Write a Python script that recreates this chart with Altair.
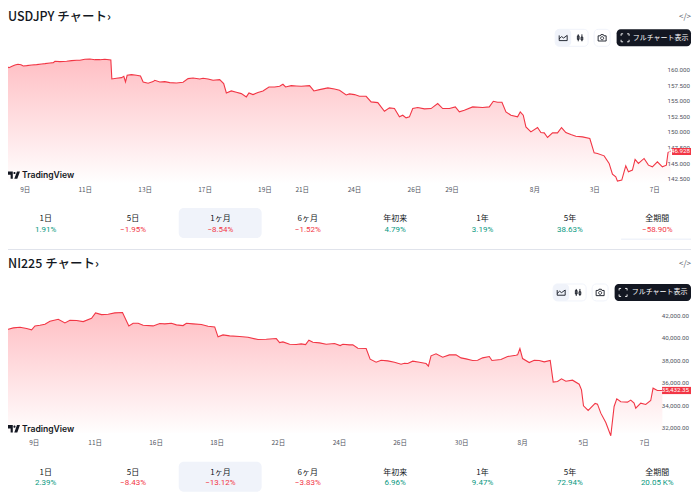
import altair as alt
import pandas as pd

FONT = "Noto Sans CJK JP"
RED = "#f23645"
GREEN = "#089981"
INK = "#131722"

usd_pos = [9,18,27,36,45,54,63,70,80,95,110,125,135,150,160,165,180,200,215,230,240,255,270,285,300,315,333,336,350,365,372,377,382,395,410,422,430,445,460,465,480,495,510,530,550,565,580,600,610,625,640,660,672,680,695,710,725,740,748,760,775,790,808,825,840,850,858,875,890,905,930,943,960,985,1005,1020,1040,
           1050,1065,1080,1100,1115,1135,1155,1170,1185,1200,1210,1220,1230,1240,1255,1275,1295,1315,1330,1350,1368,1380,1395,1420,1450,1470,1482,1495,1508,1520,1535,1555,1563,1572,1580,1595,1615,1625,1635,1645,1660,1675,1687,1700,1715,1730,1750,1772,1785,1795,1815,1830,1840,1850,1855,1868,1880,1888,1900,1908,1918,1935,1948,1960,1975,1990,2002,2007,2015]
usd_price = [160.75,160.64,160.37,160.59,160.80,160.91,160.85,160.64,160.69,160.80,160.85,160.96,161.01,161.12,161.17,161.39,161.33,161.39,161.49,161.55,161.55,161.71,161.76,161.65,161.65,161.71,161.60,158.56,158.67,158.77,158.99,158.08,159.15,159.25,159.15,159.04,158.08,157.87,158.13,158.35,158.08,158.13,157.97,157.92,158.03,158.61,158.72,158.56,158.67,158.56,158.35,158.45,157.81,156.32,156.64,156.42,156.21,155.68,156.32,156.05,156.37,156.64,157.28,157.28,157.39,157.71,157.28,157.49,157.44,157.39,157.49,156.64,156.85,157.12,156.96,156.74,156.00,
             156.16,156.05,155.78,155.78,154.88,154.77,153.38,153.92,153.81,152.48,152.74,152.32,152.48,153.81,153.97,153.76,153.81,154.61,153.81,153.81,154.08,153.28,153.54,154.08,153.97,154.08,154.98,154.82,154.82,153.28,152.74,152.48,153.28,152.74,150.87,150.07,150.77,149.97,149.91,149.17,149.91,149.91,150.77,149.97,149.65,149.38,149.27,149.01,146.71,146.61,146.23,145.01,143.30,142.87,142.18,142.34,144.63,143.67,143.94,145.65,145.01,145.81,144.74,144.47,145.27,144.47,144.74,146.77,147.03]

nk_pos = [12,25,40,60,80,95,105,120,135,150,175,195,210,230,250,275,287,305,325,345,368,387,400,415,430,460,480,495,515,530,550,560,580,605,625,645,655,670,690,720,745,775,800,830,840,850,870,890,905,918,928,940,960,980,1005,1022,1030,
          1050,1060,1075,1100,1112,1130,1145,1165,1185,1205,1215,1225,1240,1260,1280,1287,1295,1310,1330,1350,1370,1385,1400,1420,1435,1450,1470,1478,1505,1525,1550,1555,1562,1570,1590,1605,1620,1635,1653,1662,1675,1687,1700,1720,1740,1747,1753,1767,1788,1795,1805,1820,1835,1845,1853,1865,1885,1895,1905,1910,1925,1940,1955,1962,1975,1990]
nk_price = [40757,40816,40935,40994,40876,40757,41112,41171,41260,41527,41704,41379,41615,41586,41497,41793,42266,42118,42148,42266,42296,41112,41349,41349,41171,41112,41319,41290,41349,41201,41142,41349,41290,41231,41083,41024,40136,40313,40225,40165,40106,39899,39929,39988,39633,39692,39485,39455,39514,39455,39840,39662,39603,39485,39544,39366,39485,
            39426,39426,39130,39100,38153,37887,38065,38005,37887,37709,37798,37769,37976,37887,37769,37532,38449,38627,38331,38538,38538,38272,38183,38035,38065,38272,38390,38035,38124,38390,38508,38538,39100,38212,37857,38065,38035,37917,38035,36112,36171,36407,36200,36289,35934,35431,34011,33596,34218,34159,33360,32531,31348,33951,34632,34366,34336,34514,34247,33803,34247,34129,34484,35579,35372,35372]

usd_x_labels = ["9日","11日","13日","17日","19日","21日","24日","26日","29日","8月","3日","7日"]
usd_x_pos = [76,256,436,616,796,908,1065,1245,1358,1607,1787,1967]
nk_x_labels = ["9日","11日","16日","18日","22日","24日","26日","30日","8月","5日","7日"]
nk_x_pos = [103,286,469,652,836,1020,1202,1387,1570,1753,1937]

usd_ticks = [160.0,157.5,155.0,152.5,150.0,147.5,145.0,142.5]
usd_tick_labels = ["160.000","157.500","155.000","152.500","150.000","147.500","145.000","142.500"]
nk_ticks = [42000,40000,38000,36000,34000,32000]
nk_tick_labels = ["42,000.00","40,000.00","38,000.00","36,000.00","34,000.00","32,000.00"]

tabs = ["1日","5日","1ヶ月","6ヶ月","年初来","1年","5年","全期間"]
usd_pct = ["1.91%","−1.95%","−8.54%","−1.52%","4.79%","3.19%","38.63%","−58.90%"]
nk_pct = ["2.39%","−8.43%","−13.12%","−3.83%","6.96%","9.47%","72.94%","20.05 K%"]

TV = "M-1 -0.62H-0.2V0.62H-0.56V-0.05H-1Z M-0.1 -0.35a0.18 0.18 0 1 0 0.36 0a0.18 0.18 0 1 0 -0.36 0Z M0.5 -0.62H1L0.55 0.62H0.05Z"
AREA_ICON = "M-1 -0.6V0.7H1 M-1 0.25L-0.4 -0.3L0.1 0.05L1 -0.6V0.7"
CANDLE_ICON = "M-0.55 -1V1 M-0.8 -0.55H-0.3V0.45H-0.8Z M0.5 -1V1 M0.25 -0.2H0.75V0.6H0.25Z"
CAMERA = "M-1 -0.5H-0.45L-0.3 -0.8H0.3L0.45 -0.5H1V0.8H-1Z M-0.38 0.1a0.38 0.38 0 1 0 0.76 0a0.38 0.38 0 1 0 -0.76 0Z"
FRAME = "M-1 -0.5V-1H-0.5 M0.5 -1H1V-0.5 M1 0.5V1H0.5 M-0.5 1H-1V0.5"

W = 684


def text(s, x, y, size=8, color=INK, align="center", weight=400, font=FONT):
    return alt.Chart(pd.DataFrame({"t": [s]})).mark_text(
        font=font, fontSize=size, color=color, align=align, baseline="middle", fontWeight=weight
    ).encode(x=alt.value(x), y=alt.value(y), text="t:N")


def box(x0, x1, y0, y1, fill, radius=3, stroke=None):
    kw = {"stroke": stroke, "strokeWidth": 1} if stroke else {}
    return alt.Chart(pd.DataFrame({"a": [0]})).mark_rect(
        fill=fill, cornerRadius=radius, **kw
    ).encode(x=alt.value(x0), x2=alt.value(x1), y=alt.value(y0), y2=alt.value(y1))


def icon(path, x, y, size, filled=False, color=INK, sw=0.9):
    if filled:
        m = alt.Chart(pd.DataFrame({"a": [0]})).mark_point(shape=path, size=size, filled=True, fill=color, opacity=1, strokeWidth=0)
    else:
        m = alt.Chart(pd.DataFrame({"a": [0]})).mark_point(shape=path, size=size, filled=False, stroke=color, opacity=1, strokeWidth=sw)
    return m.encode(x=alt.value(x), y=alt.value(y))


def panel(title, pos, price, x_labels, x_pos, ticks, tick_labels, pct, last, last_label, tag_half,
          y_dom, y_rng, base, wm_y, title_y, o, h, xo, tag_w, btn_x, full_text, tab_y, sep):
    xs = alt.Scale(domain=[24, 2076], range=[0, W])
    ys = alt.Scale(domain=y_dom, range=y_rng)
    df = pd.DataFrame({"pos": pos, "price": price})
    grad = alt.LinearGradient(gradient="linear", x1=1, x2=1, y1=0, y2=1,
                              stops=[alt.GradientStop(color="#ffbfc4", offset=0),
                                     alt.GradientStop(color="#ffffff", offset=1)])
    area = alt.Chart(df).mark_area(color=grad, clip=True).encode(
        x=alt.X("pos:Q", scale=xs, axis=None),
        y=alt.Y("price:Q", scale=ys, axis=None, stack=None),
        y2=alt.value(base))
    line = alt.Chart(df).mark_line(color=RED, strokeWidth=1.1, clip=True).encode(
        x=alt.X("pos:Q", scale=xs, axis=None),
        y=alt.Y("price:Q", scale=ys, axis=None))
    xt = alt.Chart(pd.DataFrame({"pos": x_pos, "t": x_labels})).mark_text(
        font=FONT, fontSize=6.5, color="#50535e", baseline="middle").encode(
        x=alt.X("pos:Q", scale=xs, axis=None), y=alt.value(h), text="t:N")
    yt = alt.Chart(pd.DataFrame({"price": ticks, "t": tick_labels})).mark_text(
        font="Roboto", fontSize=6.2, color="#50535e", baseline="middle", align="right").encode(
        x=alt.value(xo), y=alt.Y("price:Q", scale=ys, axis=None), text="t:N")
    last_df = pd.DataFrame({"price": [last], "hi": [last + tag_half], "lo": [last - tag_half], "t": [last_label]})
    tag = alt.Chart(last_df).mark_rect(color=RED).encode(
        x=alt.value(xo - tag_w), x2=alt.value(W),
        y=alt.Y("hi:Q", scale=ys, axis=None), y2="lo:Q")
    tag_t = alt.Chart(last_df).mark_text(
        font="Roboto", fontSize=6.2, color="#ffffff", baseline="middle", align="right").encode(
        x=alt.value(xo), y=alt.Y("price:Q", scale=ys, axis=None), text="t:N")

    band = alt.Scale(type="band", domain=tabs, range=[-6, 694])
    tdf = pd.DataFrame({"tab": tabs, "pct": pct,
                        "col": [RED if p.startswith("−") else GREEN for p in pct]})
    tab_t = alt.Chart(tdf).mark_text(font=FONT, fontSize=8, color=INK, baseline="middle").encode(
        x=alt.X("tab:N", scale=band, axis=None, sort=None), y=alt.value(tab_y), text="tab:N")
    pct_t = alt.Chart(tdf).mark_text(font="Roboto", fontSize=8, baseline="middle").encode(
        x=alt.X("tab:N", scale=band, axis=None, sort=None), y=alt.value(tab_y + 10.5), text="pct:N",
        color=alt.Color("col:N", scale=None, legend=None))

    bx = btn_x
    by = o
    layers = [
        box(171, 254, tab_y - 11, tab_y + 19, "#f0f3fa", 5),
        area, line, xt, yt, tag, tag_t, tab_t, pct_t,
        text(title, 0, title_y, 12.5, INK, "left", 500),
        text("TradingView", 14, wm_y, 8.6, INK, "left", 600, "Inter"),
        icon(TV, 6, wm_y, 144, filled=True),
        box(bx, bx + 33, by, by + 17, "#ffffff", 4, "#f0f3fa"),
        box(bx, bx + 16, by, by + 17, "#f0f3fa", 4),
        icon(AREA_ICON, bx + 8, by + 8.5, 64),
        icon(CANDLE_ICON, bx + 25, by + 8.5, 49),
        box(bx + 39, bx + 55, by, by + 17, "#ffffff", 4, "#f0f3fa"),
        icon(CAMERA, bx + 47, by + 8.5, 64),
        box(bx + 61.5, W, by, by + 17, INK, 4),
        icon(FRAME, bx + 70, by + 8.5, 64, color="#ffffff"),
        text(full_text, (bx + 75 + W) / 2, by + 8.5, 7, "#ffffff"),
        text("</>", 678, title_y, 8, "#50535e"),
    ]
    if sep:
        layers.append(box(614, W, 230.5, 232, "#f0f3fa", 0))
        layers.append(box(0, W, 241, 242, "#e0e3eb", 0))
    return alt.layer(*layers).resolve_scale(x="independent", y="independent").properties(width=W, height=242)


top = panel("USDJPY チャート›", usd_pos, usd_price, usd_x_labels, usd_x_pos, usd_ticks, usd_tick_labels,
            usd_pct, 146.928, "146.928", 0.56, [142.5, 160.0], [171, 61.7], 176, 167, 9, 21, 181.5, 683, 18, 548,
            "フルチャート表示", 211, True)
bottom = panel("NI225 チャート›", nk_pos, nk_price, nk_x_labels, nk_x_pos, nk_ticks, nk_tick_labels,
               nk_pct, 35372, "35,432.35", 320, [32000, 42000], [178.7, 66], 183, 179, 14.5, 34, 193.7, 682, 27, 546,
               "フルチャート表示", 223, False)

chart = alt.vconcat(top, bottom, spacing=0).properties(padding=0).configure_view(stroke=None)
chart.save("out.html", embed_options={"renderer": "svg", "actions": False})
